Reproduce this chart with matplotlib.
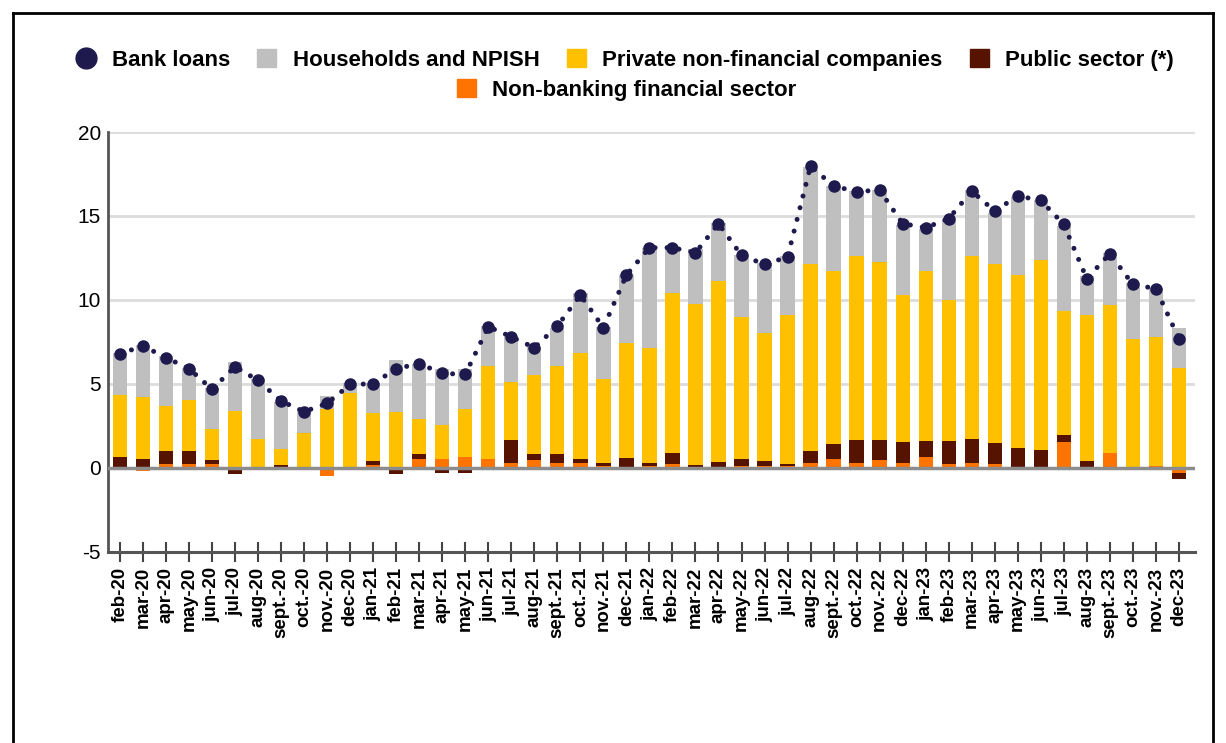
import numpy as np
import matplotlib
matplotlib.use('Agg')
import matplotlib.pyplot as plt
from matplotlib.lines import Line2D
from matplotlib.patches import Patch

months = ['feb-20', 'mar-20', 'apr-20', 'may-20', 'jun-20', 'jul-20', 'aug-20', 'sept.-20',
          'oct.-20', 'nov.-20', 'dec-20', 'jan-21', 'feb-21', 'mar-21', 'apr-21', 'may-21',
          'jun-21', 'jul-21', 'aug-21', 'sept.-21', 'oct.-21', 'nov.-21', 'dec-21', 'jan-22',
          'feb-22', 'mar-22', 'apr-22', 'may-22', 'jun-22', 'jul-22', 'aug-22', 'sept.-22',
          'oct.-22', 'nov.-22', 'dec-22', 'jan-23', 'feb-23', 'mar-23', 'apr-23', 'may-23',
          'jun-23', 'jul-23', 'aug-23', 'sept.-23', 'oct.-23', 'nov.-23', 'dec-23']

non_banking = [0, -0.2, 0.24, 0.2, 0.2, 0, -0.08, 0.03, -0.05, -0.5, -0.05, 0.15, 0.05, 0.54, 0.5, 0.63,
               0.5, 0.3, 0.45, 0.3, 0.3, 0.1, 0.05, 0.1, 0.2, -0.15, -0.15, 0.1, 0.1, 0.1, 0.3, 0.54,
               0.3, 0.45, 0.3, 0.63, 0.2, 0.3, 0.2, -0.05, 0, 1.53, 0, 0.89, 0.04, 0.08, -0.3]
public = [0.65, 0.54, 0.75, 0.77, 0.23, -0.4, 0, 0.12, 0, 0, 0, 0.25, -0.4, 0.25, -0.3, -0.3,
          -0.15, 1.33, 0.34, 0.49, 0.24, 0.15, 0.5, 0.15, 0.69, 0.15, 0.35, 0.39, 0.3, 0.1, 0.69, 0.85,
          1.33, 1.18, 1.23, 0.96, 1.39, 1.39, 1.29, 1.15, 1.05, 0.41, 0.4, 0, 0, 0, -0.35]
private = [3.68, 3.67, 2.7, 3.04, 1.85, 3.37, 1.73, 0.95, 2.09, 3.47, 4.43, 2.84, 3.24, 2.13, 2.02, 2.84,
           5.55, 3.47, 4.73, 5.26, 6.31, 5.05, 6.85, 6.9, 9.54, 9.6, 10.8, 8.5, 7.65, 8.9, 11.17, 10.33,
           10.98, 10.62, 8.76, 10.13, 8.38, 10.92, 10.67, 10.33, 11.32, 7.39, 8.7, 8.78, 7.65, 7.73, 5.96]
households = [2.5, 3.1, 2.95, 1.95, 2.45, 2.95, 3.55, 2.8, 1.38, 0.8, 0.6, 1.8, 3.1, 3.23, 3.34, 2.4,
              2.4, 2.7, 1.68, 2.3, 3.55, 3.1, 4.1, 5.95, 2.6, 3.3, 3.4, 3.7, 4.15, 3.5, 5.74, 5.08,
              3.89, 4.3, 4.16, 2.5, 4.75, 3.94, 3.04, 4.67, 3.56, 5.07, 2.3, 3.1, 3.3, 2.9, 2.38]
bank_loans = [6.79, 7.25, 6.56, 5.9, 4.67, 6.02, 5.2, 3.97, 3.34, 3.83, 4.96, 5.0, 5.9, 6.2, 5.62, 5.56,
              8.4, 7.8, 7.15, 8.44, 10.29, 8.34, 11.48, 13.11, 13.11, 12.81, 14.54, 12.65, 12.12, 12.55, 17.97, 16.78,
              16.45, 16.54, 14.54, 14.3, 14.84, 16.48, 15.29, 16.19, 15.93, 14.5, 11.26, 12.75, 10.92, 10.67, 7.69]

colors = {'hh': '#bfbfbf', 'priv': '#ffc000', 'pub': '#561300', 'nbf': '#ff7300', 'line': '#1e1a4d'}

fig = plt.figure(figsize=(12.26, 7.43), dpi=100)
ax = fig.add_axes([0.0881, 0.2576, 0.8866, 0.5647])

x = np.arange(len(months))
pos = np.zeros(len(months))
neg = np.zeros(len(months))
series = [(non_banking, colors['nbf']), (public, colors['pub']),
          (private, colors['priv']), (households, colors['hh'])]
for vals, c in series:
    v = np.array(vals, dtype=float)
    bottom = np.where(v >= 0, pos, neg)
    ax.bar(x, v, bottom=bottom, width=0.62, color=c, zorder=3, linewidth=0)
    pos = pos + np.where(v >= 0, v, 0)
    neg = neg + np.where(v < 0, v, 0)

# dotted line (round dots) + markers
ax.plot(x, bank_loans, linestyle=(0, (0.01, 2.4)), dash_capstyle='round', linewidth=3.6,
        color=colors['line'], zorder=5)
ax.plot(x, bank_loans, linestyle='none', color=colors['line'], marker='o', markersize=8, zorder=6)

ax.set_xlim(-0.52, 46.7)
ax.set_ylim(-5, 20)
ax.set_yticks([-5, 0, 5, 10, 15, 20])
ax.set_yticklabels(['-5', '0', '5', '10', '15', '20'], fontsize=15, family='Liberation Sans')
ax.tick_params(axis='y', length=0, pad=5)
for yv in [5, 10, 15, 20]:
    ax.axhline(yv, color='#dcdcdc', linewidth=2, zorder=1)
ax.axhline(0, color='#8c8c8c', linewidth=2.5, zorder=4)

ax.set_xticks(x)
ax.set_xticklabels(months, rotation=90, fontsize=13.5, fontweight='bold', family='Liberation Sans')
ax.tick_params(axis='x', direction='inout', length=14, width=1.5, color='#444444', pad=4)

for s in ['top', 'right']:
    ax.spines[s].set_visible(False)
ax.spines['left'].set_color('#555555')
ax.spines['left'].set_linewidth(2)
ax.spines['bottom'].set_color('#555555')
ax.spines['bottom'].set_linewidth(2.2)

leg_font = {'family': 'Liberation Sans', 'weight': 'bold', 'size': 16}
h1 = [Line2D([], [], linestyle='none', marker='o', markersize=15, color=colors['line']),
      Patch(color=colors['hh']), Patch(color=colors['priv']), Patch(color=colors['pub'])]
l1 = ['Bank loans', 'Households and NPISH', 'Private non-financial companies', 'Public sector (*)']
leg1 = fig.legend(h1, l1, loc='center', bbox_to_anchor=(0.510, 0.919), ncol=4, frameon=False,
                  prop=leg_font, handlelength=0.85, handleheight=0.85, handletextpad=0.75,
                  columnspacing=1.22)
leg2 = fig.legend([Patch(color=colors['nbf'])], ['Non-banking financial sector'], loc='center',
                  bbox_to_anchor=(0.511, 0.879), frameon=False, prop=leg_font,
                  handlelength=0.85, handleheight=0.85, handletextpad=0.7)

# frame lines of the original panel
fig.add_artist(Line2D([13 / 1226, 1213 / 1226], [1 - 13 / 743, 1 - 13 / 743], color='black', linewidth=2))
fig.add_artist(Line2D([13 / 1226, 13 / 1226], [0, 1 - 13 / 743], color='black', linewidth=2))
fig.add_artist(Line2D([1213 / 1226, 1213 / 1226], [0, 1 - 13 / 743], color='black', linewidth=2))

fig.savefig('out.png', dpi=100)
